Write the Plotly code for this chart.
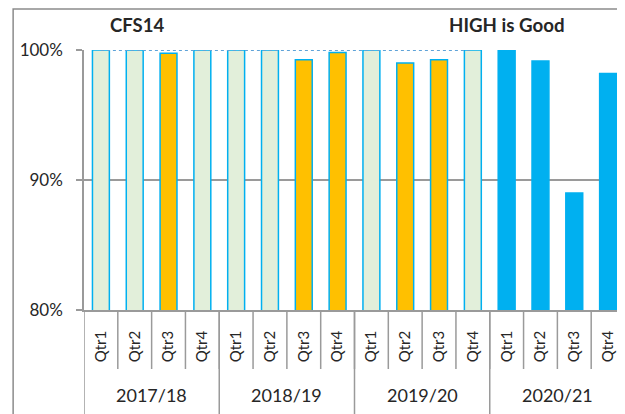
import plotly.graph_objects as go

years = ["2017/18", "2018/19", "2019/20", "2020/21"]
quarters = ["Qtr1", "Qtr2", "Qtr3", "Qtr4"]
values = [100, 100, 99.75, 100,
          100, 100, 99.25, 99.8,
          100, 99.0, 99.25, 100,
          100, 99.15, 89.0, 98.2]
bar_colors = ["#E2EFDA", "#E2EFDA", "#FFC000", "#E2EFDA",
              "#E2EFDA", "#E2EFDA", "#FFC000", "#FFC000",
              "#E2EFDA", "#FFC000", "#FFC000", "#E2EFDA",
              "#00B0F0", "#00B0F0", "#00B0F0", "#00B0F0"]
target = [100] * 12 + [None] * 4
y_ticks = [80, 90, 100]
y_tick_text = ["80%", "90%", "100%"]

cats = [f"{y} {q}" for y in years for q in quarters]
qlabels = [q for y in years for q in quarters]

FONT = "Lato, Open Sans, sans-serif"
GRID = "#9a9a9a"
TXT = "#262626"

fig = go.Figure()
fig.add_trace(go.Bar(
    x=cats, y=values, width=0.5,
    marker=dict(color=bar_colors, line=dict(color="#00B0F0", width=1.5)),
    showlegend=False,
))
fig.add_trace(go.Scatter(
    x=cats, y=target, mode="lines",
    line=dict(color="#5fa3d8", width=2, dash="dot"),
    showlegend=False, hoverinfo="skip",
))

shapes = []
# quarter separators
for k in range(len(cats)):
    shapes.append(dict(type="line", xref="x", yref="paper",
                       x0=k + 0.5, x1=k + 0.5, y0=0, y1=-0.227,
                       line=dict(color=GRID, width=1.5)))
# year separators
for k in range(len(years) + 1):
    xpos = k * 4 - 0.5
    shapes.append(dict(type="line", xref="x", yref="paper",
                       x0=xpos, x1=xpos, y0=0, y1=-0.45,
                       line=dict(color=GRID, width=1.5)))
# outer chart border
shapes.append(dict(type="rect", xref="paper", yref="paper",
                   x0=-0.131, x1=1.1, y0=-0.6, y1=1.158,
                   line=dict(color="#8c8c8c", width=1.5)))

annotations = []
for i, y in enumerate(years):
    annotations.append(dict(x=i * 4 + 1.5, y=-0.327, xref="x", yref="paper",
                            text=y, showarrow=False, yanchor="middle",
                            font=dict(family=FONT, size=18, color=TXT)))
annotations.append(dict(x=0.044, y=1.096, xref="paper", yref="paper", text="<b>CFS14</b>",
                        showarrow=False, xanchor="left", yanchor="middle",
                        font=dict(family=FONT, size=18.5, color=TXT)))
annotations.append(dict(x=0.671, y=1.096, xref="paper", yref="paper", text="<b>HIGH is Good</b>",
                        showarrow=False, xanchor="left", yanchor="middle",
                        font=dict(family=FONT, size=18.7, color=TXT)))

fig.update_layout(
    width=617, height=406,
    margin=dict(l=76, r=0, t=42, b=104),
    plot_bgcolor="white", paper_bgcolor="white",
    shapes=shapes, annotations=annotations,
    bargap=0.5,
)
fig.update_xaxes(
    type="category", tickmode="array", tickvals=cats, ticktext=qlabels,
    tickangle=-90, ticks="outside", ticklen=13, tickcolor="rgba(0,0,0,0)",
    tickfont=dict(family=FONT, size=15, color=TXT),
    showline=True, linecolor=GRID, linewidth=1.5, showgrid=False,
    range=[-0.5, 15.5], automargin=False,
)
fig.update_yaxes(
    range=[80, 100], tickmode="array", tickvals=y_ticks, ticktext=y_tick_text,
    ticks="outside", ticklen=6, tickcolor=GRID, tickwidth=1.5,
    tickfont=dict(family=FONT, size=17, color=TXT),
    showgrid=True, gridcolor=GRID, gridwidth=1.5,
    showline=True, linecolor=GRID, linewidth=1.5, zeroline=False,
    ticklabelstandoff=10, automargin=False,
)

fig.write_html("out.html")
